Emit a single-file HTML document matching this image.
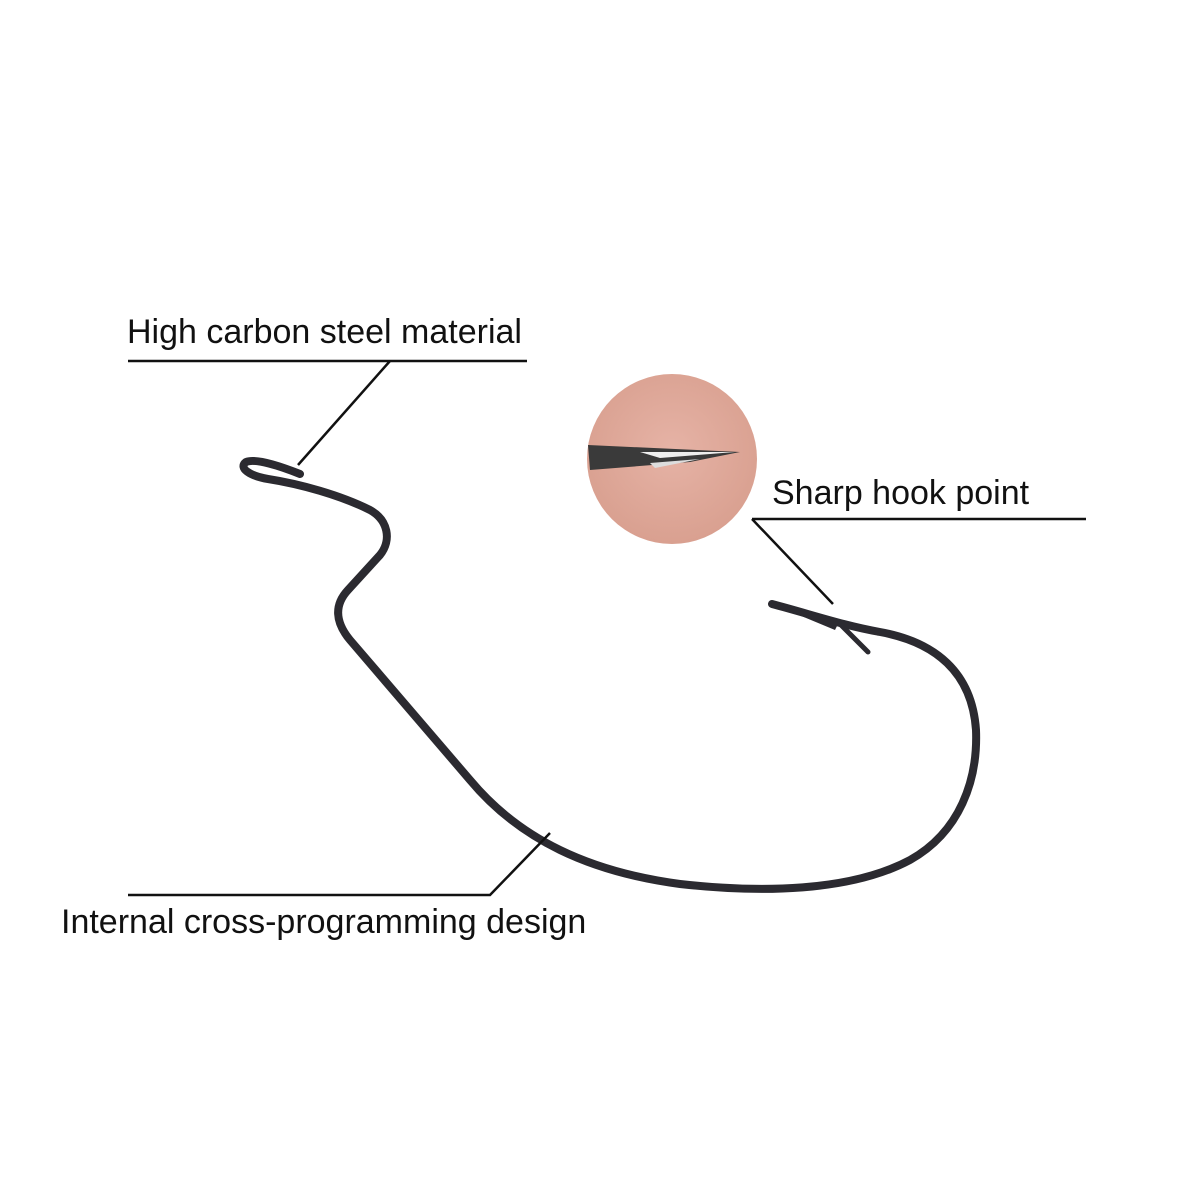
<!DOCTYPE html>
<html><head><style>
html,body{margin:0;padding:0;background:#fff;}
.t{position:absolute;font-family:"Liberation Sans",sans-serif;font-size:34px;color:#111;white-space:nowrap;}
</style></head><body>
<div style="position:relative;width:1200px;height:1200px;overflow:hidden;background:#fff">
<svg width="1200" height="1200" style="position:absolute;left:0;top:0">
<defs>
<radialGradient id="skin" cx="50%" cy="45%" r="55%">
<stop offset="0" stop-color="#e6b3a6"/><stop offset="1" stop-color="#d9a090"/>
</radialGradient>
</defs>
<circle cx="672" cy="459" r="85" fill="url(#skin)"/>
<path d="M588 445 L740 452 L690 462 L590 470 Z" fill="#3a3a3a"/>
<path d="M640 452 L735 452 L660 458 Z" fill="#eee"/>
<path d="M650 463 L700 459 L655 468 Z" fill="#ddd"/>
<g fill="none" stroke="#2b2a30" stroke-linecap="round" stroke-linejoin="round">
<path d="M300 474 C280 466 255 458 246 462 C238 468 250 476 268 479 C300 484 340 495 370 510 C388 520 392 540 380 555 L348 590 C334 605 335 622 350 640 L470 780 C520 840 590 872 680 884 C760 893 850 892 910 860 C960 832 978 780 976 730 C972 672 935 642 880 632 C845 626 810 614 772 604" stroke-width="8"/>
<path d="M840 624 L868 652" stroke-width="5"/>
</g>
<path d="M770 603 L840 620 L835 630 Z" fill="#2b2a30"/>
<g stroke="#111" stroke-width="2.5" fill="none">
<path d="M128 361 L527 361 M390 361 L298 465"/>
<path d="M752 519 L1086 519 M752 519 L833 604"/>
<path d="M128 895 L490 895 L550 833"/>
</g>
</svg>
<div class="t" style="left:127px;top:313px">High carbon steel material</div>
<div class="t" style="left:772px;top:474px">Sharp hook point</div>
<div class="t" style="left:61px;top:903px">Internal cross-programming design</div>
</div>
</body></html>
